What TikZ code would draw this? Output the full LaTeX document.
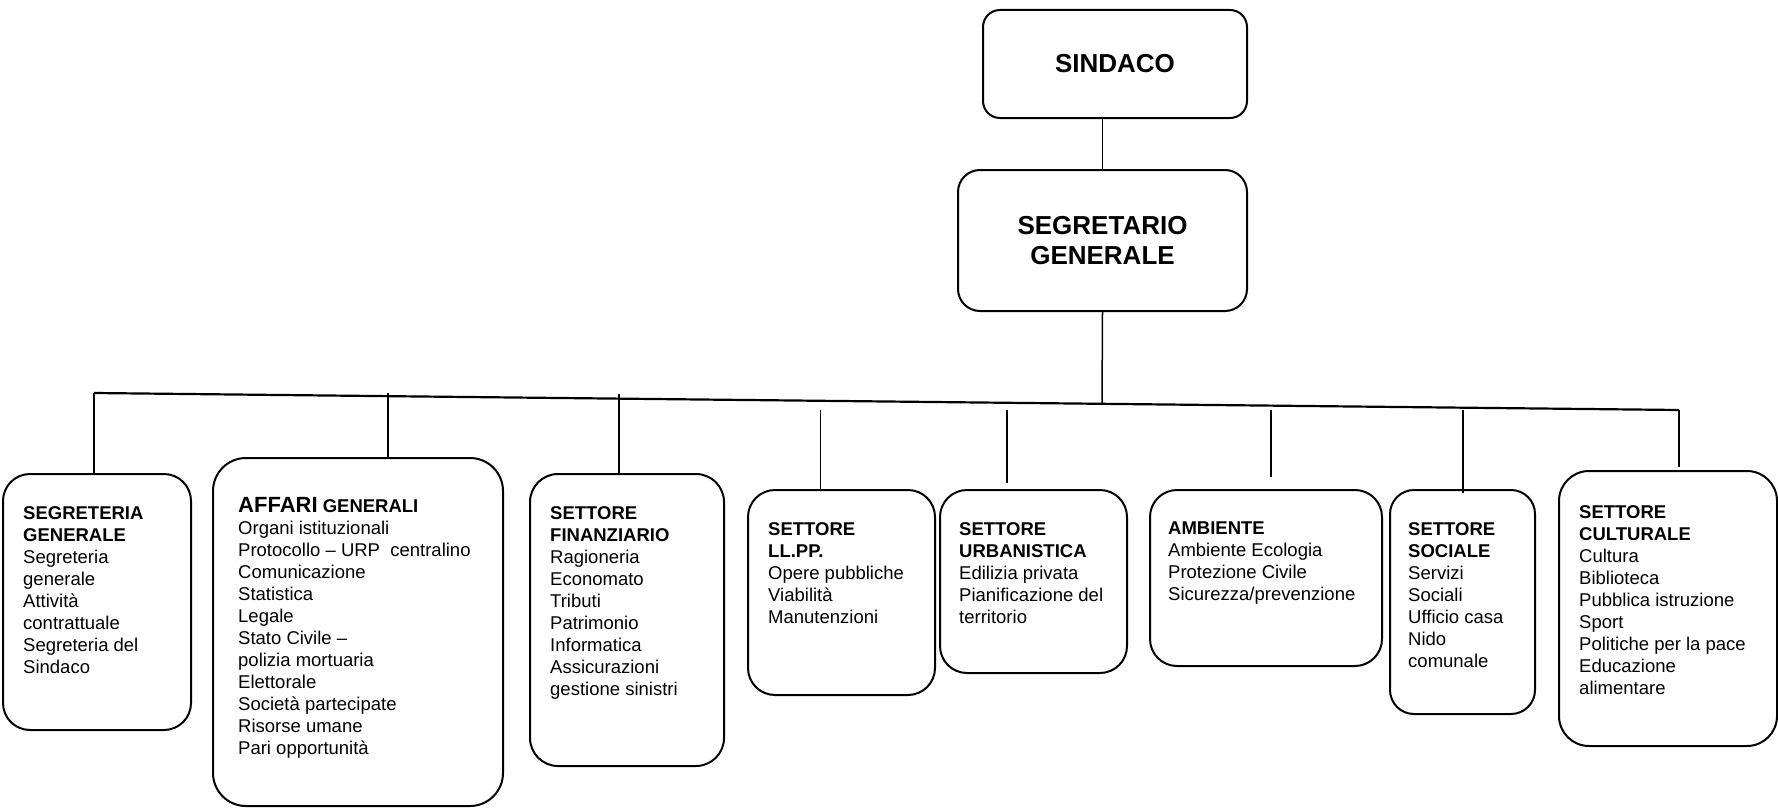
\documentclass[tikz,border=0pt]{standalone}
\usepackage{fontspec}
\setmainfont{Liberation Sans}
\usetikzlibrary{calc}

\tikzset{
  unitbox/.style={draw, line width=2pt},
  headbox/.style={unitbox, align=center, font=\fontsize{26}{30}\selectfont\bfseries},
  unittxt/.style={anchor=north west, align=left, inner sep=0pt, font=\fontsize{18.5}{22}\selectfont},
  link/.style={line width=1.5pt},
  bar/.style={line width=2.2pt},
}

\begin{document}
\begin{tikzpicture}[x=1pt,y=-1pt]
\useasboundingbox (0,0) rectangle (1778,808);

\node[headbox, rounded corners=17pt, minimum width=264pt, minimum height=108pt] (sind) at (1115,64) {SINDACO};
\node[headbox, rounded corners=22pt, minimum width=289pt, minimum height=141pt] (segret) at (1102.5,240.5) {SEGRETARIO\\GENERALE};

% settori
\node[unitbox, rounded corners=27pt, minimum width=188pt, minimum height=256pt] (segr) at (97,602) {};
\node[unitbox, rounded corners=33pt, minimum width=290pt, minimum height=348pt] (aff) at (358,632) {};
\node[unitbox, rounded corners=28pt, minimum width=194pt, minimum height=292pt] (fin) at (627,620) {};
\node[unitbox, rounded corners=27pt, minimum width=187pt, minimum height=205pt] (llpp) at (841.5,592.5) {};
\node[unitbox, rounded corners=27pt, minimum width=187pt, minimum height=183pt] (urb) at (1033.5,581.5) {};
\node[unitbox, rounded corners=27pt, minimum width=232pt, minimum height=176pt] (amb) at (1266,578) {};
\node[unitbox, rounded corners=24pt, minimum width=145pt, minimum height=224pt] (soc) at (1462.5,602) {};
\node[unitbox, rounded corners=30pt, minimum width=218pt, minimum height=275pt] (cult) at (1668,608.5) {};

\node[unittxt] (segr-t) at (23,506.5) {\textbf{SEGRETERIA}\\\textbf{GENERALE}\\Segreteria\\generale\\Attività\\contrattuale\\Segreteria del\\Sindaco};
\node[unittxt] (aff-t) at (238,496.7) {{\fontsize{22}{22}\selectfont\textbf{AFFARI}} \textbf{GENERALI}\\Organi istituzionali\\Protocollo – URP\ \ centralino\\Comunicazione\\Statistica\\Legale\\Stato Civile –\\polizia mortuaria\\Elettorale\\Società partecipate\\Risorse umane\\Pari opportunità};
\node[unittxt] (fin-t) at (550,506.5) {\textbf{SETTORE}\\\textbf{FINANZIARIO}\\Ragioneria\\Economato\\Tributi\\Patrimonio\\Informatica\\Assicurazioni\\gestione sinistri};
\node[unittxt] (llpp-t) at (768,522) {\textbf{SETTORE}\\\textbf{LL.PP.}\\Opere pubbliche\\Viabilità\\Manutenzioni};
\node[unittxt] (urb-t) at (959,522) {\textbf{SETTORE}\\\textbf{URBANISTICA}\\Edilizia privata\\Pianificazione del\\territorio};
\node[unittxt] (amb-t) at (1168,522) {\textbf{AMBIENTE}\\Ambiente Ecologia\\Protezione Civile\\Sicurezza/prevenzione};
\node[unittxt] (soc-t) at (1408,522) {\textbf{SETTORE}\\\textbf{SOCIALE}\\Servizi\\Sociali\\Ufficio casa\\Nido\\comunale};
\node[unittxt] (cult-t) at (1579,505) {\textbf{SETTORE}\\\textbf{CULTURALE}\\Cultura\\Biblioteca\\Pubblica istruzione\\Sport\\Politiche per la pace\\Educazione\\alimentare};

% collegamenti
\coordinate (hub) at (1102,404);
\coordinate (bar-l) at (94,393);
\coordinate (bar-r) at (1679,410);
\coordinate (d-aff) at (388,393);
\coordinate (d-fin) at (619,394);
\coordinate (d-llpp) at (820.5,410);
\coordinate (d-urb) at (1007,410);
\coordinate (d-amb) at (1271,410);
\coordinate (d-soc) at (1463,410);

\draw[link] (sind.south -| segret.north) -- (segret.north);
\draw[link] (segret.south) -- (hub);
\draw[bar] (bar-l) -- (bar-r);
\draw[link] (bar-l) -- (bar-l |- segr.north);
\draw[link] (d-aff) -- (d-aff |- aff.north);
\draw[link] (d-fin) -- (d-fin |- fin.north);
\draw[link] (d-llpp) -- (d-llpp |- llpp.north);
\draw[link] (d-urb) -- ($(d-urb |- urb.north)+(0,-6)$);
\draw[link] (d-amb) -- ($(d-amb |- amb.north)+(0,-12)$);
\draw[link] (d-soc) -- ($(d-soc |- soc.north)+(0,4)$);
\draw[link] (bar-r) -- ($(bar-r |- cult.north)+(0,-3)$);
\end{tikzpicture}
\end{document}
